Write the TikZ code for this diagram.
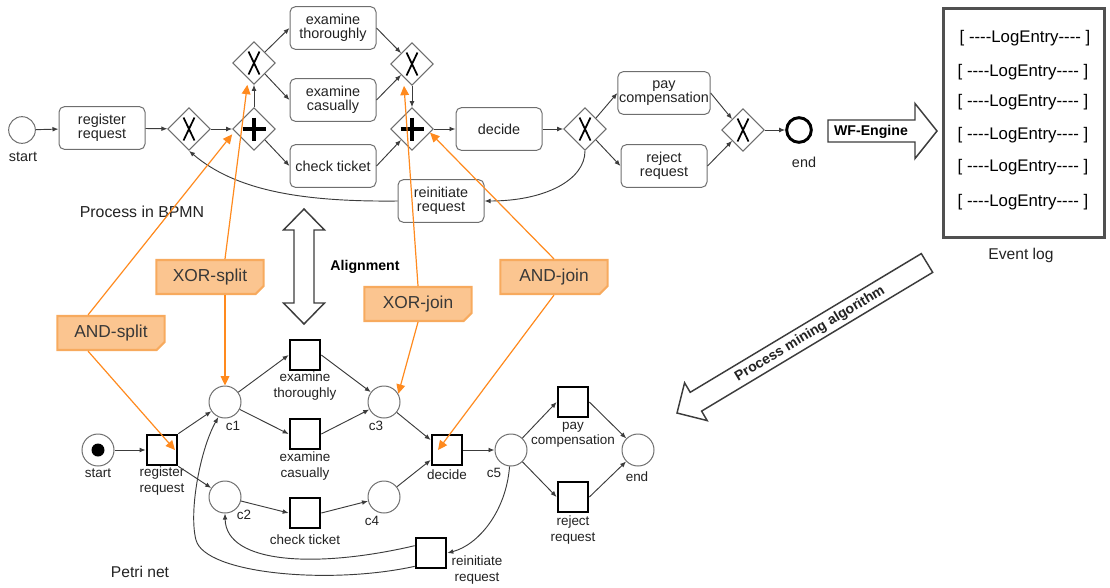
\documentclass[tikz,border=0pt]{standalone}
\usepackage{fontspec}
\setmainfont{Liberation Sans}
\usetikzlibrary{arrows.meta,shapes.geometric,shapes.misc,calc}

\definecolor{ink}{HTML}{222222}
\definecolor{edgegray}{HTML}{3C3C3C}
\definecolor{boxline}{HTML}{6E6E6E}
\definecolor{hintorange}{HTML}{FF8A1E}
\definecolor{notefill}{HTML}{FBC590}
\definecolor{noteline}{HTML}{F7AA5E}

% gateway markers
\newcommand\gatex[1]{\draw[line width=1.3pt,black]
  ($(#1)+(-5.5,-11.5)$) -- ($(#1)+(5.5,11.5)$)
  ($(#1)+(5.5,-11.5)$) -- ($(#1)+(-5.5,11.5)$);}
\newcommand\gateplus[1]{\draw[line width=3.1pt,black]
  ($(#1)+(-11.5,0)$) -- ($(#1)+(11.5,0)$)
  ($(#1)+(0,-11.5)$) -- ($(#1)+(0,11.5)$);}
% four plain hyphens (kerns keep them from merging into dashes)
\newcommand\fourhyph{-\kern0pt-\kern0pt-\kern0pt-}
\newcommand\logentry{[ \fourhyph LogEntry\fourhyph\ ]}

\begin{document}
\begin{tikzpicture}[x=0.75pt,y=-0.75pt,
  font=\fontsize{10.8}{10.6}\selectfont, text=ink,
  task/.style={draw=boxline,line width=0.75pt,rounded corners=4pt,
    minimum width=64.5pt,minimum height=32pt,align=center,inner sep=1pt},
  gate/.style={diamond,draw=boxline,line width=0.75pt,minimum width=32pt,
    minimum height=32pt,inner sep=0pt},
  flow/.style={draw=edgegray,line width=0.7pt,-{Latex[length=4.5pt,width=3.6pt]}},
  place/.style={circle,draw=boxline,line width=0.75pt,minimum size=24pt,inner sep=0pt},
  trans/.style={rectangle,draw=black,line width=1.5pt,minimum size=23pt,inner sep=0pt},
  plabel/.style={font=\fontsize{10.1}{11.3}\selectfont,align=center,text=ink},
  hint/.style={draw=hintorange,line width=0.9pt,-{Triangle[length=7pt,width=6.5pt]}},
  note/.style={chamfered rectangle,chamfered rectangle corners=south east,
    chamfered rectangle xsep=3pt,chamfered rectangle ysep=3pt,
    fill=notefill,draw=noteline,line width=1.6pt,minimum width=80.5pt,
    minimum height=25.5pt,inner sep=1pt,font=\fontsize{13}{13}\selectfont,text=ink!90},
  bigarrow/.style={draw=edgegray,line width=1.1pt,fill=white,line join=miter},
  boldlbl/.style={font=\bfseries\fontsize{10.6}{10.6}\selectfont,text=black},
  logline/.style={font=\fontsize{12.6}{12.6}\selectfont,text=black},
]
\useasboundingbox (0,0) rectangle (1110,587);

% ---------------- BPMN model ----------------
\node[circle,draw=boxline,line width=0.75pt,minimum size=20pt,inner sep=0pt] (bstart) at (22,130) {};
\node (bstartlbl) at (23,157) {start};
\node[task] (breg) at (102,128) {register\\request};
\node[gate] (bx1) at (189,129) {};
\node[gate] (band1) at (254,129) {};
\node[gate] (bxs) at (254,63) {};
\node[task] (bet) at (333,28) {examine\\thoroughly};
\node[task] (bec) at (333,100) {examine\\casually};
\node[task] (bct) at (333,166) {check ticket};
\node[gate] (bxj) at (412,64) {};
\node[gate] (baj) at (412,129) {};
\node[task] (bdec) at (499,129) {decide};
\node[gate] (bx2) at (585,129) {};
\node[task] (bpay) at (664,93) {pay\\compensation};
\node[task] (brej) at (664,166) {reject\\request};
\node[gate] (bxj2) at (743,130) {};
\node[circle,draw=black,line width=2.2pt,minimum size=18.5pt,inner sep=0pt] (bend) at (799,130) {};
\node (bendlbl) at (804,162) {end};
\node[task] (brein) at (441,201) {reinitiate\\request};

\gatex{bx1}
\gateplus{band1}
\gatex{bxs}
\gatex{bxj}
\gateplus{baj}
\gatex{bx2}
\gatex{bxj2}

\draw[flow] (bstart) -- (breg);
\draw[flow] (breg) -- (bx1);
\draw[flow] (bx1) -- (band1);
\draw[flow] (band1) -- (bxs);
\draw[flow] (bxs.north east) -- (bet.west);
\draw[flow] (bxs.south east) -- (bec.west);
\draw[flow] (band1.south east) -- (bct.west);
\draw[flow] (bet.east) -- (bxj.north west);
\draw[flow] (bec.east) -- (bxj.south west);
\draw[flow] (bxj) -- (baj);
\draw[flow] (bct.east) -- (baj.south west);
\draw[flow] (baj) -- (bdec);
\draw[flow] (bdec) -- (bx2);
\draw[flow] (bx2.north east) -- (bpay.west);
\draw[flow] (bx2.south east) -- (brej.west);
\draw[flow] (bpay.east) -- (bxj2.north west);
\draw[flow] (brej.east) -- (bxj2.south west);
\draw[flow] (bxj2) -- (bend);
\draw[flow] (bx2.south) .. controls (585,180) and (545,201) .. (brein.east);
\draw[flow] (brein.west) .. controls (300,202) and (235,190) .. (bx1.south);

\node[font=\fontsize{11.9}{12}\selectfont] (bpmnlbl) at (142,212) {Process in BPMN};

% ---------------- Petri net ----------------
\node[place] (pstart) at (98,450) {};
\fill[black] (pstart) circle[radius=6.5];
\node[trans] (prr) at (162,450) {};
\node[place] (pc1) at (225,402) {};
\node[place] (pc2) at (225,497) {};
\node[trans] (pet) at (305,355) {};
\node[trans] (pec) at (305,434) {};
\node[trans] (pct) at (305,513) {};
\node[place] (pc3) at (384,402) {};
\node[place] (pc4) at (384,497) {};
\node[trans] (pdec) at (447,450) {};
\node[place] (pc5) at (511,450) {};
\node[trans] (ppay) at (573,402) {};
\node[trans] (prej) at (573,497) {};
\node[place] (pend) at (638,450) {};
\node[trans] (prein) at (431,553) {};

\node[plabel] (pstartlbl) at (98,473) {start};
\node[plabel] (prrlbl) at (162,481) {register\\request};
\node[plabel] (pc1lbl) at (233,426) {c1};
\node[plabel] (pc2lbl) at (244,515) {c2};
\node[plabel] (petlbl) at (305,386) {examine\\thoroughly};
\node[plabel] (peclbl) at (305,466) {examine\\casually};
\node[plabel] (pctlbl) at (305,540) {check ticket};
\node[plabel] (pc3lbl) at (376,426) {c3};
\node[plabel] (pc4lbl) at (372,521) {c4};
\node[plabel] (pdeclbl) at (447,475) {decide};
\node[plabel] (pc5lbl) at (494,473) {c5};
\node[plabel] (ppaylbl) at (573,435) {pay\\compensation};
\node[plabel] (prejlbl) at (573,530) {reject\\request};
\node[plabel] (pendlbl) at (637,477) {end};
\node[plabel] (preinlbl) at (477,570) {reinitiate\\request};

\draw[flow] (pstart) -- (prr);
\draw[flow] (prr.north east) -- (pc1);
\draw[flow] (prr.south east) -- (pc2);
\draw[flow] (pc1) -- (pet.west);
\draw[flow] (pc1) -- (pec.west);
\draw[flow] (pc2) -- (pct.west);
\draw[flow] (pet.east) -- (pc3);
\draw[flow] (pec.east) -- (pc3);
\draw[flow] (pct.east) -- (pc4);
\draw[flow] (pc3) -- ([yshift=7.5pt]pdec.west);
\draw[flow] (pc4) -- ([yshift=-7.5pt]pdec.west);
\draw[flow] (pdec) -- (pc5);
\draw[flow] (pc5) -- (ppay.west);
\draw[flow] (pc5) -- (prej.west);
\draw[flow] (ppay.east) -- (pend);
\draw[flow] (prej.east) -- (pend);
\draw[flow] (pc5.265) .. controls (506,512) and (478,545) .. (prein.east);
\draw[flow] ([yshift=5.5pt]prein.west) .. controls (320,568) and (226,565) .. (pc2.south);
\draw[flow] ([yshift=-10pt]prein.west) .. controls (330,585) and (205,574) .. (196,540)
  .. controls (188.6,512) and (200,450) .. (pc1.246);

\node[font=\fontsize{11.7}{12}\selectfont] (petrilbl) at (140,572) {Petri net};

% ---------------- alignment arrow ----------------
\draw[bigarrow] (304,209) -- (324.5,230) -- (314,230) -- (314,303) -- (324.5,303)
  -- (304,324) -- (283.5,303) -- (294,303) -- (294,230) -- (283.5,230) -- cycle;
\node[boldlbl] (alignlbl) at (365,267) {Alignment};

% ---------------- event log ----------------
\draw[bigarrow] (828,120) -- (915,120) -- (915,103.5) -- (937,131) -- (915,158.5)
  -- (915,142) -- (828,142) -- cycle;
\node[boldlbl] (wflbl) at (871,132) {WF-Engine};

\node[draw=edgegray!90,line width=2.3pt,minimum width=120.75pt,minimum height=171.75pt] (evlog) at (1024,123) {};
\node[logline] (le1) at (1025,38) {\logentry};
\node[logline] (le2) at (1023,72) {\logentry};
\node[logline] (le3) at (1023,102) {\logentry};
\node[logline] (le4) at (1023,135) {\logentry};
\node[logline] (le5) at (1023,167) {\logentry};
\node[logline] (le6) at (1023,202) {\logentry};
\node[font=\fontsize{11.7}{12}\selectfont] (evloglbl) at (1021,255) {Event log};

% ---------------- mining arrow ----------------
\draw[bigarrow] (932.7,272.4) -- (921.3,253.6) -- (690.2,392.3) -- (684.6,382.8)
  -- (677,413) -- (707.2,420.6) -- (701.6,411.1) -- cycle;
\node[font=\bfseries\fontsize{10.5}{10.5}\selectfont,rotate=31] (minelbl) at (810,334) {Process mining algorithm};

% ---------------- construct notes ----------------
\node[note] (nandsplit) at (111,333) {AND-split};
\node[note] (nxorsplit) at (210,277) {XOR-split};
\node[note] (nxorjoin) at (418,304) {XOR-join};
\node[note] (nandjoin) at (554,277) {AND-join};

\draw[hint] ([xshift=-17.25pt]nandsplit.north) -- ([yshift=-4pt]band1.west);
\draw[hint] ([xshift=-17.25pt]nandsplit.south) -- ([xshift=9.75pt]prr.center);
\draw[hint] ([xshift=11.25pt]nxorsplit.north) -- ([xshift=-5pt]bxs.south);
\draw[hint] ([xshift=11.25pt]nxorsplit.south) -- (pc1.north);
\draw[hint] (nxorjoin.north) -- ([xshift=-6pt]bxj.south);
\draw[hint] (nxorjoin.south) -- (pc3.30);
\draw[hint] (nandjoin.north) -- ($(baj.east)!0.17!(baj.south)$);
\draw[hint] (nandjoin.south) -- ([xshift=-6.75pt]pdec.center);

\end{tikzpicture}
\end{document}
